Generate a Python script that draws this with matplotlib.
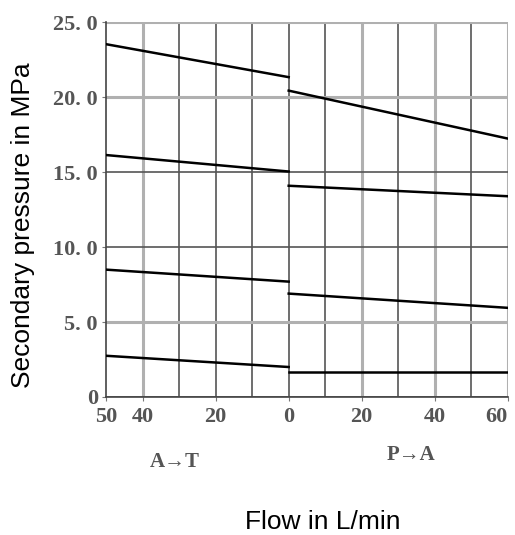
import matplotlib
matplotlib.use("Agg")
import matplotlib.pyplot as plt

# flow in L/min; A->T side is drawn to the left of 0, P->A side to the right
at_flow = [50, 0]
pa_flow = [0, 60]

# secondary pressure (MPa) at the ends of each segment, top curve first
at_pressure = [[23.55, 21.35], [16.15, 15.05], [8.5, 7.7], [2.75, 2.0]]
pa_pressure = [[20.45, 17.25], [14.1, 13.4], [6.9, 5.95], [1.65, 1.65]]

y_ticks = [0, 5, 10, 15, 20, 25]
y_labels = ["0", "5. 0", "10. 0", "15. 0", "20. 0", "25. 0"]
x_ticks = [-50, -40, -20, 0, 20, 40, 60]
x_labels = ["50", "40", "20", "0", "20", "40", "60"]

num_font = dict(family="Liberation Serif", weight="bold", color="#555555")

fig = plt.figure(figsize=(5.15, 5.35), dpi=100)
ax = fig.add_axes([0.206, 0.258, 0.78, 0.7])

# grid: some lines in the scan are dark, some are lighter and wider
dark = dict(color="#555555", lw=1.2, zorder=1)
light = dict(color="#b0b0b0", lw=2.2, zorder=1)
for u in [-30, -20, -10, 0, 10, 30, 50]:
    ax.axvline(u, **dark)
for u in [-40, 20, 40, 60]:
    ax.axvline(u, **light)
for v in [0, 10, 15]:
    ax.axhline(v, **dark)
for v in [5, 20, 25]:
    ax.axhline(v, **light)

for p in at_pressure:
    ax.plot([-f for f in at_flow], p, color="black", lw=1.8, zorder=3)
for p in pa_pressure:
    ax.plot(pa_flow, p, color="black", lw=1.8, zorder=3)

ax.set_xlim(-50, 60)
ax.set_ylim(0, 25)
ax.set_xticks(x_ticks)
ax.set_xticklabels(x_labels, fontdict=num_font, fontsize=16)
ax.set_yticks(y_ticks)
ax.set_yticklabels(y_labels, fontdict=num_font, fontsize=16)
ax.tick_params(axis="y", length=3, color="#777", pad=3)
ax.tick_params(axis="x", length=3, color="#777", pad=4)
ax.get_xticklabels()[-1].set_horizontalalignment("right")
for side in ["top", "right"]:
    ax.spines[side].set_visible(False)
ax.spines["left"].set_color("#444")
ax.spines["bottom"].set_color("#444")
ax.spines["left"].set_linewidth(1.2)
ax.spines["bottom"].set_linewidth(1.2)

fig.text(0.34, 0.137, "A→T", ha="center", va="center", fontsize=15, **num_font)
fig.text(0.798, 0.15, "P→A", ha="center", va="center", fontsize=15, **num_font)

fig.text(0.045, 0.579, "Secondary pressure in MPa", rotation=90,
         ha="center", va="center", fontsize=19, family="Liberation Sans")
fig.text(0.627, 0.024, "Flow in L/min", ha="center", va="center",
         fontsize=19, family="Liberation Sans")

fig.savefig("out.png", dpi=100)
